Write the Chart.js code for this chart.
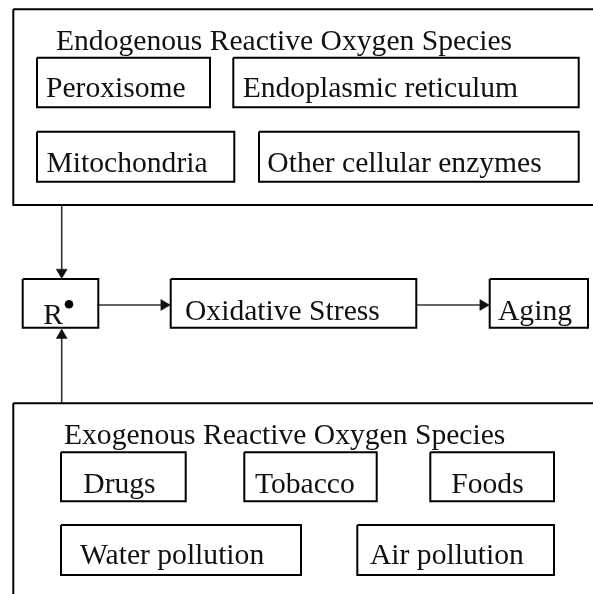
<!DOCTYPE html>
<html>
<head>
<meta charset="utf-8">
<script src="https://cdn.jsdelivr.net/npm/chart.js@4"></script>
<style>
html,body{margin:0;padding:0;background:#fff;}
#wrap{width:593px;height:594px;position:relative;}
</style>
</head>
<body>
<div id="wrap"><canvas id="c"></canvas></div>
<script>
// ---- diagram data (diagram units) ----
const groupTitles = ["Endogenous Reactive Oxygen Species", "Exogenous Reactive Oxygen Species"];
const groupTitleX = [56, 64];
const groupTitleY = [50, 444];
const groupLeft = [13.3, 13.3];
const groupTop = [9.3, 403.3];
const groupRight = [600, 600];
const groupBottom = [205, 600];

const nodeLabels = ["Peroxisome", "Endoplasmic reticulum", "Mitochondria", "Other cellular enzymes",
  "R", "Oxidative Stress", "Aging",
  "Drugs", "Tobacco", "Foods", "Water pollution", "Air pollution"];
const nodeLeft   = [37, 233.3, 37, 259, 22.7, 170.7, 489.7, 61, 244.3, 430.3, 61, 357.3];
const nodeTop    = [57.7, 57.7, 131.7, 131.7, 279, 279, 279, 452.3, 452.3, 452.3, 525, 525];
const nodeRight  = [210, 578.7, 234.3, 578.7, 98.3, 416.3, 588, 185.7, 376.7, 554, 301, 554];
const nodeBottom = [107.3, 107.3, 181.7, 181.7, 327.7, 327.7, 327.7, 501.3, 501.3, 501.3, 575, 575];
const nodeTextX  = [46, 242.7, 46.5, 267.3, 43.3, 185, 498, 83.3, 255, 451.3, 80, 370];
const nodeTextY  = [97.3, 97.3, 171.7, 172, 324, 319.5, 319.5, 493, 492.5, 492.5, 564, 564];

// radical dot next to R
const radicalDot = [{x: 69, y: 304.3}];

// arrows: start -> tip
const arrowFromX = [61.7, 61.7, 97, 416.3];
const arrowFromY = [205, 403.3, 305, 305];
const arrowToX   = [61.7, 61.7, 170.3, 489.3];
const arrowToY   = [278.6, 329, 305, 305];

// ---- build datasets ----
function rectPoints(l, t, r, b) {
  return [{x:l,y:t},{x:r,y:t},{x:r,y:b},{x:l,y:b},{x:l,y:t}];
}
const datasets = [];
for (let i = 0; i < groupTitles.length; i++) {
  datasets.push({data: rectPoints(groupLeft[i], groupTop[i], groupRight[i], groupBottom[i]),
    showLine: true, borderColor: '#000', borderWidth: 2, pointRadius: 0, tension: 0, fill: false});
}
for (let i = 0; i < nodeLabels.length; i++) {
  datasets.push({data: rectPoints(nodeLeft[i], nodeTop[i], nodeRight[i], nodeBottom[i]),
    showLine: true, borderColor: '#000', borderWidth: 2, pointRadius: 0, tension: 0, fill: false});
}
const HEAD = 6.3;
for (let i = 0; i < arrowFromX.length; i++) {
  const dx = arrowToX[i] - arrowFromX[i], dy = arrowToY[i] - arrowFromY[i];
  const len = Math.hypot(dx, dy);
  const ux = dx / len, uy = dy / len;
  const cx = arrowToX[i] - ux * HEAD, cy = arrowToY[i] - uy * HEAD;
  const rot = Math.atan2(ux, -uy) * 180 / Math.PI;
  datasets.push({data: [{x: arrowFromX[i], y: arrowFromY[i]}, {x: cx, y: cy}],
    showLine: true, borderColor: '#333', borderWidth: 1.6, tension: 0, fill: false,
    pointRadius: [0, HEAD], pointStyle: 'triangle', rotation: [0, rot],
    pointBackgroundColor: '#111', pointBorderColor: '#111', pointBorderWidth: 0.5});
}
datasets.push({data: radicalDot, showLine: false, pointRadius: 4.3, pointStyle: 'circle',
  pointBackgroundColor: '#000', pointBorderColor: '#000', pointBorderWidth: 0});

const FONT = '29.6px "Liberation Serif", "Times New Roman", serif';

const textPlugin = {
  id: 'diagramText',
  afterDatasetsDraw(chart) {
    const ctx = chart.ctx;
    const xs = chart.scales.x, ys = chart.scales.y;
    ctx.save();
    ctx.font = FONT;
    ctx.fillStyle = '#111';
    ctx.textBaseline = 'alphabetic';
    ctx.textAlign = 'left';
    for (let i = 0; i < groupTitles.length; i++) {
      ctx.fillText(groupTitles[i], xs.getPixelForValue(groupTitleX[i]), ys.getPixelForValue(groupTitleY[i]));
    }
    for (let i = 0; i < nodeLabels.length; i++) {
      ctx.fillText(nodeLabels[i], xs.getPixelForValue(nodeTextX[i]), ys.getPixelForValue(nodeTextY[i]));
    }
    ctx.restore();
  }
};

new Chart(document.getElementById('c'), {
  type: 'scatter',
  data: {datasets},
  options: {
    responsive: true,
    maintainAspectRatio: false,
    animation: false,
    events: [],
    layout: {padding: 0, autoPadding: false},
    plugins: {legend: {display: false}, tooltip: {enabled: false}, title: {display: false}},
    scales: {
      x: {type: 'linear', min: 0, max: 593, display: false},
      y: {type: 'linear', min: 0, max: 594, reverse: true, display: false}
    }
  },
  plugins: [textPlugin]
});
</script>
</body>
</html>
